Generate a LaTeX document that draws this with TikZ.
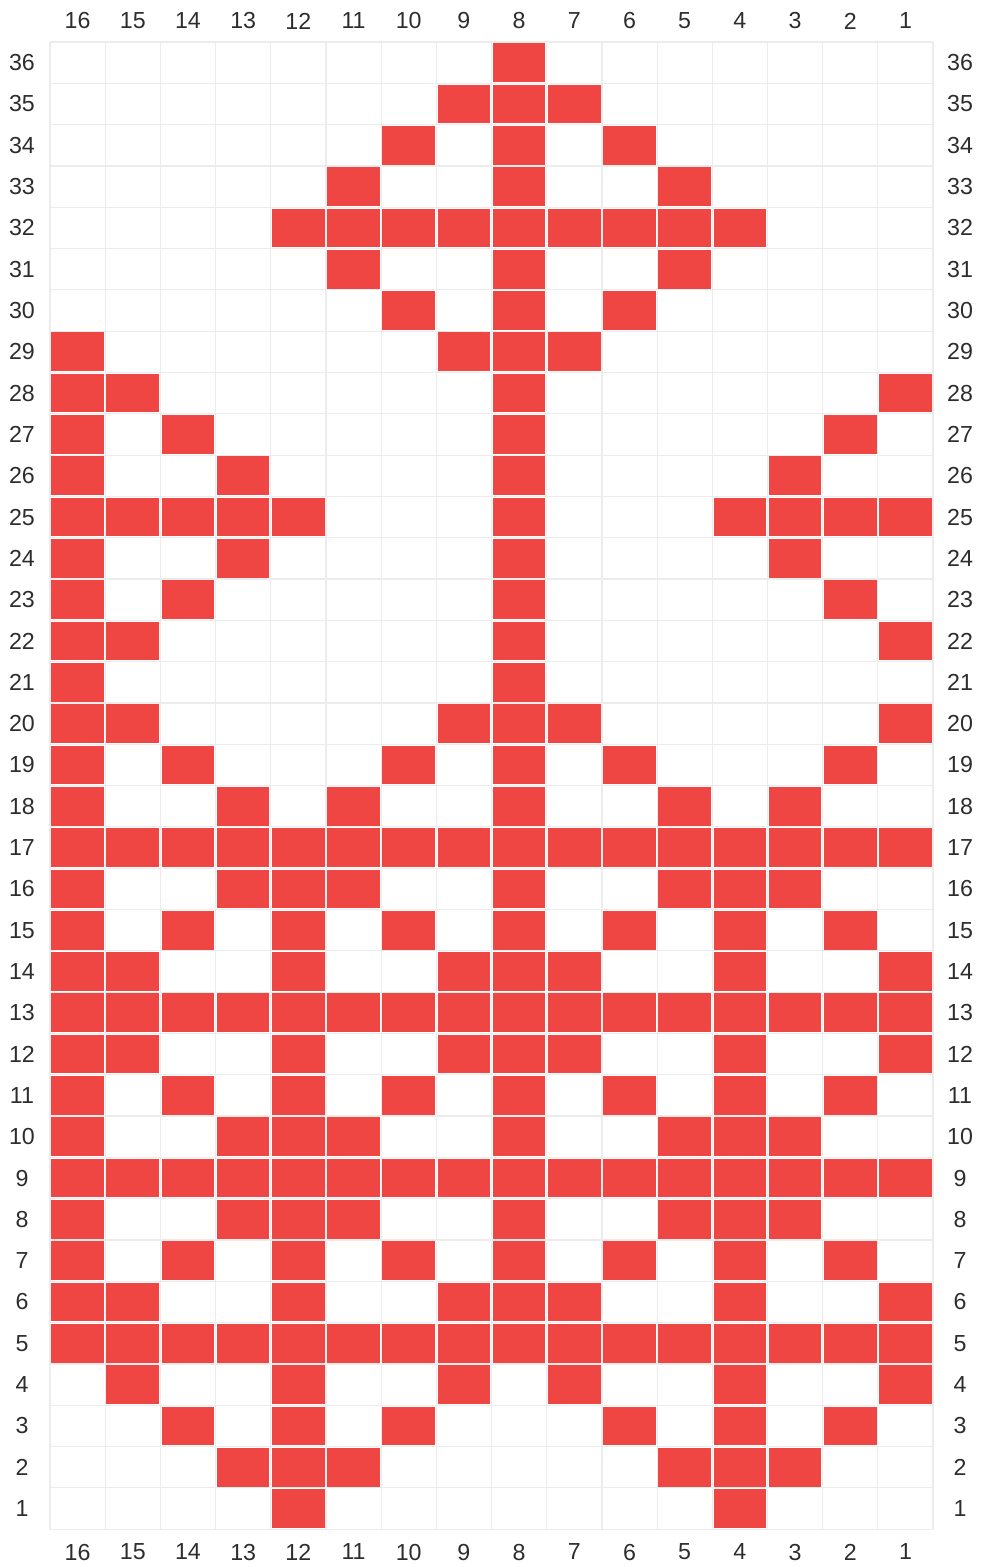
\documentclass[tikz,border=0pt]{standalone}
\usepackage{fontspec}
\setmainfont{Liberation Sans}
\definecolor{cellred}{RGB}{239,70,67}
\definecolor{gridgray}{RGB}{236,236,236}
\definecolor{labelgray}{RGB}{45,45,45}
\begin{document}
\begin{tikzpicture}[x=0.5pt,y=-0.5pt,
  gridline/.style={draw=gridgray,line width=0.6pt},
  cellfill/.style={fill=cellred},
  lab/.style={text=labelgray,font=\fontsize{11.6}{13}\selectfont,inner sep=0pt}]
\useasboundingbox (0,0) rectangle (984,1567);
\def\X{50}\def\Y{42}\def\W{55.19}\def\H{41.31}
% grid
\foreach \k in {0,...,16}{
  \draw[gridline] ({\X+\W*\k},\Y) -- ({\X+\W*\k},{\Y+\H*36});
}
\foreach \k in {0,...,36}{
  \draw[gridline] (\X,{\Y+\H*\k}) -- ({\X+\W*16},{\Y+\H*\k});
}
% cells
\foreach \r/\cs in {
 36/{8},
 35/{9,8,7},
 34/{10,8,6},
 33/{11,8,5},
 32/{12,11,10,9,8,7,6,5,4},
 31/{11,8,5},
 30/{10,8,6},
 29/{16,9,8,7},
 28/{16,15,8,1},
 27/{16,14,8,2},
 26/{16,13,8,3},
 25/{16,15,14,13,12,8,4,3,2,1},
 24/{16,13,8,3},
 23/{16,14,8,2},
 22/{16,15,8,1},
 21/{16,8},
 20/{16,15,9,8,7,1},
 19/{16,14,10,8,6,2},
 18/{16,13,11,8,5,3},
 17/{1,...,16},
 16/{16,13,12,11,8,5,4,3},
 15/{16,14,12,10,8,6,4,2},
 14/{16,15,12,9,8,7,4,1},
 13/{1,...,16},
 12/{16,15,12,9,8,7,4,1},
 11/{16,14,12,10,8,6,4,2},
 10/{16,13,12,11,8,5,4,3},
 9/{1,...,16},
 8/{16,13,12,11,8,5,4,3},
 7/{16,14,12,10,8,6,4,2},
 6/{16,15,12,9,8,7,4,1},
 5/{1,...,16},
 4/{15,12,9,7,4,1},
 3/{14,12,10,6,4,2},
 2/{13,12,11,5,4,3},
 1/{12,4}}{
  \foreach \c in \cs {
    \fill[cellfill] ({\X+\W*(16-\c)+1.3},{\Y+\H*(36-\r)+1.3}) rectangle ({\X+\W*(17-\c)-1.3},{\Y+\H*(37-\r)-1.3});
  }
}
% column labels
\foreach \c in {1,...,16}{
  \node[lab] (top\c) at ({\X+\W*(16.5-\c)},21) {\c};
  \node[lab] (bot\c) at ({\X+\W*(16.5-\c)},1552) {\c};
}
% row labels
\foreach \r in {1,...,36}{
  \node[lab] (left\r) at (22,{\Y+\H*(36.5-\r)}) {\r};
  \node[lab] (right\r) at (960,{\Y+\H*(36.5-\r)}) {\r};
}
\end{tikzpicture}
\end{document}
